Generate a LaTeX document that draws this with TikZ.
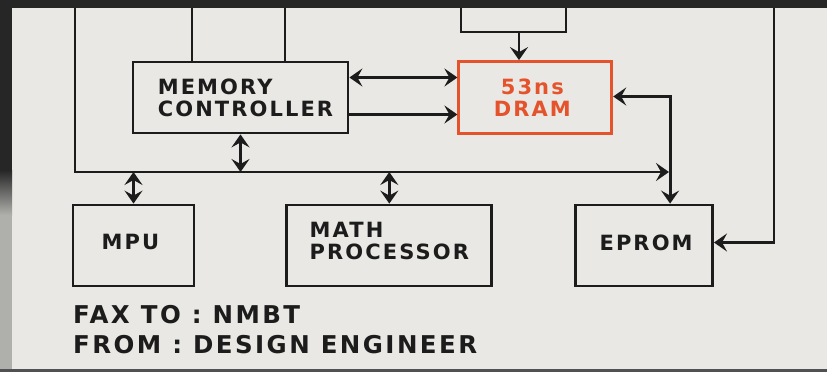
\documentclass[tikz,border=0pt]{standalone}
\usepackage{fontspec}
\usepackage{tikz}
\usetikzlibrary{positioning,arrows.meta}
\newfontfamily\handfont{DejaVu Sans}[LetterSpace=10]
\definecolor{paper}{RGB}{233,232,228}
\definecolor{ink}{RGB}{28,28,28}
\definecolor{dramred}{RGB}{229,83,45}
\definecolor{edgedark}{RGB}{38,38,38}
\definecolor{edgegray}{RGB}{175,175,172}

\begin{document}
\begin{tikzpicture}[x=1pt, y=-1pt,
    tip/.tip={Stealth[length=13pt,width=18pt,inset=5pt]},
    block/.style={draw=ink, line width=2.8pt, rectangle, inner sep=0pt},
    wire/.style={draw=ink, line width=2.8pt},
    boxlabel/.style={font=\handfont\bfseries\fontsize{21}{22}\selectfont, align=left, text=ink},
    notelabel/.style={font=\handfont\bfseries\fontsize{24.5}{30}\selectfont, text=ink, inner sep=0pt, anchor=base west}]

    % Paper and photo edges
    \fill[paper] (0,0) rectangle (827,372);
    \useasboundingbox (0,0) rectangle (827,372);
    \fill[edgedark] (0,0) rectangle (827,8);
    \fill[edgedark] (0,0) rectangle (12,170);
    \shade[top color=edgedark, bottom color=edgegray] (0,170) rectangle (12,215);
    \fill[edgegray] (0,215) rectangle (12,372);
    \fill[edgedark!80] (0,369) rectangle (827,372);

    % Blocks
    \node[block, minimum width=215pt, minimum height=71pt] (mc) at (240.5,97.5) {};
    \node[boxlabel] at ([xshift=5pt]mc.center) {MEMORY\\CONTROLLER};
    \node[block, draw=dramred, minimum width=153pt, minimum height=72pt, right=108pt of mc] (dram) {};
    \node[boxlabel, text=dramred, align=center] at ([xshift=-3pt]dram.center) {53ns\\DRAM};
    \node[block, minimum width=121pt, minimum height=81pt] (mpu) at (133.5,245.5) {};
    \node[boxlabel] at ([xshift=-3pt,yshift=4pt]mpu.center) {MPU};
    \node[block, minimum width=205pt, minimum height=81pt, right=90pt of mpu] (math) {};
    \node[boxlabel] at ([yshift=5pt]math.center) {MATH\\PROCESSOR};
    \node[block, minimum width=137pt, minimum height=81pt, right=81pt of math] (eprom) {};
    \node[boxlabel] at ([xshift=2pt,yshift=3pt]eprom.center) {EPROM};

    % Notes
    \node[notelabel] (faxto) at (73,323) {FAX TO : NMBT};
    \node[notelabel] (fromline) at (73,353) {FROM : DESIGN ENGINEER};

    % Free ends at the top and the bus
    \coordinate (topL) at (75,8);
    \coordinate (topA) at (192,8);
    \coordinate (topB) at (285,8);
    \coordinate (srcL) at (461,8);
    \coordinate (srcR) at (566,8);
    \coordinate (topR) at (774,8);
    \coordinate (busL) at (75,172);
    \coordinate (busR) at (669,172);

    % Wires
    \draw[wire, -tip] (topL) -- (busL) -- (busR);
    \draw[wire] (topA) -- (topA |- mc.north);
    \draw[wire] (topB) -- (topB |- mc.north);
    \draw[wire] (srcL) -- (461,32) -- (566,32) -- (srcR);
    \draw[wire, -tip] (519,32) -- (519,0 |- dram.north);
    \draw[wire, tip-tip] ([yshift=20pt]mc.east) -- ([yshift=20pt]dram.west);
    \draw[wire, -tip] ([yshift=-17pt]mc.east) -- ([yshift=-17pt]dram.west);
    \draw[wire, tip-tip] ([yshift=1pt]dram.east) -| ([xshift=26pt]eprom.north);
    \draw[wire, -tip] (topR) |- ([yshift=3pt]eprom.east);

    % Bus taps
    \draw[wire, tip-tip] (mc.south) -- (mc.south |- busL);
    \draw[wire, tip-tip] (mpu.north |- busL) -- (mpu.north);
    \draw[wire, tip-tip] (math.north |- busL) -- (math.north);
\end{tikzpicture}
\end{document}
